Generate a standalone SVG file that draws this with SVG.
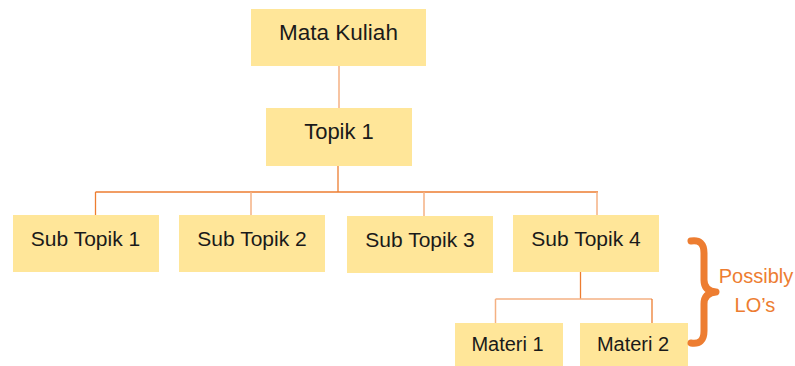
<svg xmlns="http://www.w3.org/2000/svg" width="795" height="366" viewBox="0 0 795 366">
<style>
.box{fill:#FFE699;}
.t{font-family:"Liberation Sans",Arial,sans-serif;fill:#1a1a1a;text-anchor:middle;}
.ln{stroke:#ED7D31;stroke-width:1.3;fill:none;}
.lt{stroke:#F4B183;stroke-width:1.5;fill:none;}
.o{font-family:"Liberation Sans",Arial,sans-serif;fill:#ED7D31;text-anchor:middle;font-size:20px;}
</style>
<rect width="795" height="366" fill="#ffffff"/>
<g id="connectors">
<line class="lt" x1="339" y1="65" x2="339" y2="108"/>
<line class="ln" x1="338" y1="166" x2="338" y2="192"/>
<line class="ln" x1="95.5" y1="192" x2="598" y2="192"/>
<line class="ln" x1="95.5" y1="192" x2="95.5" y2="215"/>
<line class="lt" x1="251" y1="192" x2="251" y2="215"/>
<line class="lt" x1="424" y1="192" x2="424" y2="216"/>
<line class="lt" x1="597" y1="192" x2="597" y2="215"/>
<line class="ln" x1="580.5" y1="272" x2="580.5" y2="299"/>
<line class="lt" x1="495.5" y1="299" x2="652" y2="299"/>
<line class="lt" x1="495.5" y1="299" x2="495.5" y2="323"/>
<line class="ln" x1="652" y1="299" x2="652" y2="323"/>
</g>
<g id="mata-kuliah"><rect class="box" x="251" y="9" width="175" height="57"/><text class="t" x="338.5" y="39.5" font-size="22.5">Mata Kuliah</text></g>
<g id="topik-1"><rect class="box" x="266" y="108" width="146" height="58"/><text class="t" x="339" y="138.5" font-size="22">Topik 1</text></g>
<g id="sub-topik-1"><rect class="box" x="13" y="215" width="146" height="57"/><text class="t" x="85.5" y="245.5" font-size="21">Sub Topik 1</text></g>
<g id="sub-topik-2"><rect class="box" x="179" y="215" width="146" height="57"/><text class="t" x="252" y="245.5" font-size="21">Sub Topik 2</text></g>
<g id="sub-topik-3"><rect class="box" x="347" y="216" width="146" height="57"/><text class="t" x="420" y="246.5" font-size="21">Sub Topik 3</text></g>
<g id="sub-topik-4"><rect class="box" x="513" y="215" width="146" height="57"/><text class="t" x="586" y="245.5" font-size="21">Sub Topik 4</text></g>
<g id="materi-1"><rect class="box" x="455" y="323" width="108" height="43"/><text class="t" x="507.5" y="351" font-size="20">Materi 1</text></g>
<g id="materi-2"><rect class="box" x="580" y="323" width="108" height="43"/><text class="t" x="633" y="351" font-size="20">Materi 2</text></g>
<g id="brace-label">
<path d="M 691 241 Q 704 239 704 253 L 704 280 Q 704 291 716 292 Q 704 293 704 304 L 704 331 Q 704 345 691 343" fill="none" stroke="#ED7D31" stroke-width="7" stroke-linecap="round" stroke-linejoin="round"/>
<text class="o" x="756" y="283">Possibly</text>
<text class="o" x="755" y="312">LO’s</text>
</g>
</svg>
